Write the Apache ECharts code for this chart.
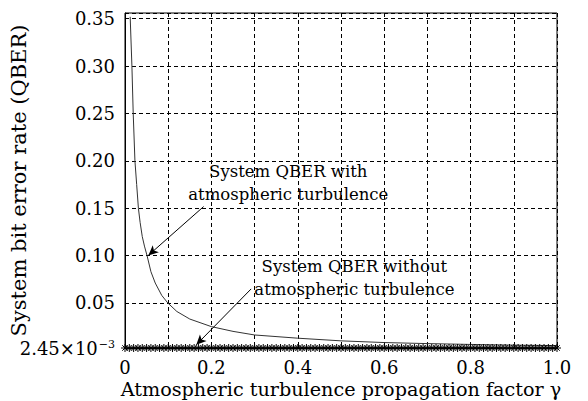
<!DOCTYPE html>
<html>
<head>
<meta charset="utf-8">
<script src="https://cdn.jsdelivr.net/npm/echarts@6/dist/echarts.min.js"></script>
<style>
  html, body { margin: 0; padding: 0; background: #fff; }
  #chart { width: 588px; height: 401px; }
</style>
</head>
<body>
<div id="chart"></div>
<script>
// curve with atmospheric turbulence
const gammaTurb = [0.012, 0.016, 0.019, 0.023, 0.027, 0.031, 0.035, 0.040, 0.045, 0.051,
  0.060, 0.070, 0.085, 0.099, 0.120, 0.150, 0.200, 0.250, 0.300, 0.400,
  0.500, 0.600, 0.700, 0.800, 0.900, 1.000];
const qberTurb = [0.352, 0.300, 0.250, 0.200, 0.175, 0.150, 0.135, 0.120, 0.110, 0.100,
  0.083, 0.071, 0.058, 0.050, 0.041, 0.033, 0.025, 0.020, 0.0162, 0.0128,
  0.0100, 0.0082, 0.0071, 0.0062, 0.0055, 0.0050];

// curve without turbulence: flat at the floor, marked every 0.01
const gammaNoTurb = [0, 0.01, 0.02, 0.03, 0.04, 0.05, 0.06, 0.07, 0.08, 0.09,
  0.1, 0.11, 0.12, 0.13, 0.14, 0.15, 0.16, 0.17, 0.18, 0.19,
  0.2, 0.21, 0.22, 0.23, 0.24, 0.25, 0.26, 0.27, 0.28, 0.29,
  0.3, 0.31, 0.32, 0.33, 0.34, 0.35, 0.36, 0.37, 0.38, 0.39,
  0.4, 0.41, 0.42, 0.43, 0.44, 0.45, 0.46, 0.47, 0.48, 0.49,
  0.5, 0.51, 0.52, 0.53, 0.54, 0.55, 0.56, 0.57, 0.58, 0.59,
  0.6, 0.61, 0.62, 0.63, 0.64, 0.65, 0.66, 0.67, 0.68, 0.69,
  0.7, 0.71, 0.72, 0.73, 0.74, 0.75, 0.76, 0.77, 0.78, 0.79,
  0.8, 0.81, 0.82, 0.83, 0.84, 0.85, 0.86, 0.87, 0.88, 0.89,
  0.9, 0.91, 0.92, 0.93, 0.94, 0.95, 0.96, 0.97, 0.98, 0.99, 1.0];
const qberNoTurbLevel = 0.00245;

// axis ranges
const xRange = [0, 1];
const yRange = [0.00245, 0.356];

// annotations: [text, anchor x, anchor y]
const notes = [
  ['System QBER with\natmospheric turbulence', 0.378, 0.1765],
  ['System QBER without\natmospheric turbulence', 0.531, 0.0759]
];
// arrows: [from, to]
const arrows = [
  [[0.182, 0.1517], [0.054, 0.1002]],
  [[0.292, 0.0648], [0.165, 0.0058]]
];

const font = 'DejaVu Serif';
const star = 'path://M5,0L5,10M0,5L10,5M1.6,1.6L8.4,8.4M1.6,8.4L8.4,1.6';

const chart = echarts.init(document.getElementById('chart'), null, { renderer: 'svg' });

const option = {
  animation: false,
  backgroundColor: '#fff',
  grid: {
    left: 125, right: 31, top: 13, bottom: 53,
    outerBoundsMode: 'none',
    containLabel: false,
    show: true, borderColor: '#000', borderWidth: 1
  },
  xAxis: {
    type: 'value',
    min: xRange[0], max: xRange[1], interval: 0.1,
    name: 'Atmospheric turbulence propagation factor \u03b3',
    nameLocation: 'middle', nameGap: 32, nameMoveOverlap: false,
    nameTextStyle: { fontFamily: font, fontSize: 19.2, color: '#000' },
    axisLine: { lineStyle: { color: '#000', width: 1 } },
    axisTick: { inside: true, length: 3, lineStyle: { color: '#000' } },
    axisLabel: {
      fontFamily: font, fontSize: 18, color: '#000', margin: 10,
      formatter: v => {
        const k = Math.round(v * 10);
        if (k % 2) return '';
        return k === 0 ? '0' : v.toFixed(1);
      }
    },
    splitLine: { show: true, lineStyle: { color: '#000', type: [4, 3], width: 1 } }
  },
  yAxis: {
    type: 'value',
    min: yRange[0], max: yRange[1], splitNumber: 7,
    name: 'System bit error rate (QBER)',
    nameLocation: 'middle', nameGap: 96, nameMoveOverlap: false,
    nameTextStyle: { fontFamily: font, fontSize: 21, color: '#000' },
    axisLine: { lineStyle: { color: '#000', width: 1 } },
    axisTick: { inside: true, length: 3, lineStyle: { color: '#000' } },
    axisLabel: {
      fontFamily: font, fontSize: 18, color: '#000', margin: 10,
      formatter: v => {
        if (Math.abs(v - yRange[0]) < 1e-6) return '{n|2.45\u00d710}{s|\u22123}';
        if (v > 0.351) return '';
        return v.toFixed(2);
      },
      rich: {
        n: { fontFamily: font, fontSize: 18, color: '#000' },
        s: { fontFamily: font, fontSize: 11, color: '#000', verticalAlign: 'top', padding: [0, 0, 8, 1] }
      }
    },
    splitLine: { show: true, lineStyle: { color: '#000', type: [4, 3], width: 1 } }
  },
  series: [
    {
      name: 'with turbulence',
      type: 'line',
      data: gammaTurb.map((g, i) => [g, qberTurb[i]]),
      showSymbol: false,
      lineStyle: { color: '#333', width: 1 },
      markLine: {
        silent: true,
        symbol: ['none', 'arrow'],
        symbolSize: [7, 10],
        label: { show: false },
        lineStyle: { color: '#000', width: 1, type: 'solid' },
        data: arrows.map(a => [{ coord: a[0] }, { coord: a[1] }])
      }
    },
    {
      name: 'without turbulence',
      type: 'line',
      data: gammaNoTurb.map(g => [g, qberNoTurbLevel]),
      symbol: star,
      symbolSize: 8,
      showAllSymbol: true,
      itemStyle: { color: 'none', borderColor: '#000', borderWidth: 1 },
      lineStyle: { color: '#000', width: 1 },
      markPoint: {
        silent: true,
        symbolSize: 0,
        label: {
          show: true, position: 'inside',
          fontFamily: font, fontSize: 16.5, color: '#000',
          lineHeight: 23, align: 'center', verticalAlign: 'middle',
          formatter: p => p.name
        },
        data: notes.map(n => ({ name: n[0], coord: [n[1], n[2]] }))
      }
    }
  ]
};

chart.setOption(option);
</script>
</body>
</html>
